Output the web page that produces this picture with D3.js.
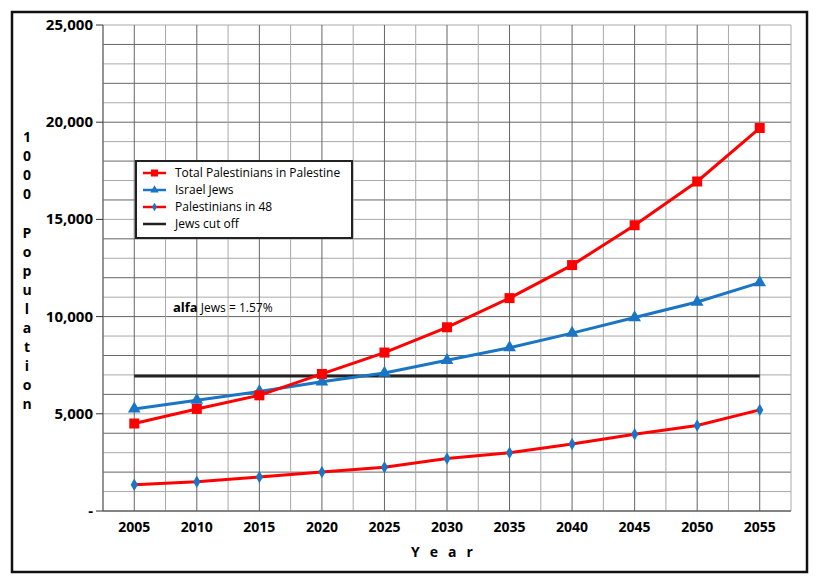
<!DOCTYPE html><html><head><script src="https://cdn.jsdelivr.net/npm/d3@7"></script>
<style>body{margin:0;background:#fff}text{font-family:"Open Sans",Arial,sans-serif}</style></head><body>
<svg id="c" width="822" height="584"></svg>
<script>
const years=[2005,2010,2015,2020,2025,2030,2035,2040,2045,2050,2055];
const totalPal=[4500,5250,5950,7050,8150,9450,10950,12650,14700,16950,19700];
const israelJews=[5250,5700,6150,6650,7100,7750,8400,9150,9950,10750,11750];
const pal48=[1350,1500,1750,2000,2250,2700,3000,3450,3950,4400,5200];
const cutoff=6950;
const yTicks=[0,5000,10000,15000,20000,25000];
const svg=d3.select("#c");
svg.append("rect").attr("x",12).attr("y",12).attr("width",795).attr("height",560).attr("fill","none").attr("stroke","#111").attr("stroke-width",2.5);
const x=d3.scaleLinear().domain([2002.5,2057.5]).range([103,791]);
const y=d3.scaleLinear().domain([0,25000]).range([511,25]);
const g=svg.append("g");
d3.range(0,25001,1000).forEach((v,i)=>g.append("line").attr("x1",103).attr("x2",791).attr("y1",y(v)).attr("y2",y(v)).attr("stroke",i%2?"#aaa":"#666").attr("stroke-width",1));
d3.range(2002.5,2058,2.5).forEach((v,i)=>g.append("line").attr("y1",25).attr("y2",511).attr("x1",x(v)).attr("x2",x(v)).attr("stroke",i%2?"#666":"#aaa").attr("stroke-width",1));
g.append("line").attr("x1",103).attr("x2",103).attr("y1",25).attr("y2",511).attr("stroke","#555");
g.append("line").attr("x1",103).attr("x2",791).attr("y1",511).attr("y2",511).attr("stroke","#555");
yTicks.forEach(v=>{g.append("line").attr("x1",96).attr("x2",103).attr("y1",y(v)).attr("y2",y(v)).attr("stroke","#333");
 g.append("text").attr("x",93).attr("y",y(v)+5).attr("text-anchor","end").attr("font-size",15).attr("font-weight","bold").text(v===0?"-":d3.format(",")(v));});
years.forEach(v=>g.append("text").attr("x",x(v)).attr("y",532).attr("text-anchor","middle").attr("font-size",14).attr("font-weight","bold").text(v));
g.append("text").attr("x",447).attr("y",557).attr("text-anchor","middle").attr("font-size",14).attr("font-weight","bold").attr("letter-spacing","10px").text("Year");
const lab=["1","0","0","0","","P","o","p","u","l","a","t","i","o","n"];
lab.forEach((c,i)=>g.append("text").attr("x",27).attr("y",142+i*19.1).attr("text-anchor","middle").attr("font-size",14).attr("font-weight","bold").text(c));
const line=d3.line().x((d,i)=>x(years[i])).y(d=>y(d));
svg.append("line").attr("x1",x(2005)).attr("x2",x(2055)).attr("y1",y(cutoff)).attr("y2",y(cutoff)).attr("stroke","#222").attr("stroke-width",3);
svg.append("path").attr("d",line(pal48)).attr("fill","none").attr("stroke","#f00").attr("stroke-width",3);
pal48.forEach((d,i)=>svg.append("path").attr("d",d3.symbol(d3.symbolDiamond,45)()).attr("transform",`translate(${x(years[i])},${y(d)})`).attr("fill","#1a75c4"));
svg.append("path").attr("d",line(israelJews)).attr("fill","none").attr("stroke","#1a75c4").attr("stroke-width",3);
israelJews.forEach((d,i)=>svg.append("path").attr("d",d3.symbol(d3.symbolTriangle,70)()).attr("transform",`translate(${x(years[i])},${y(d)})`).attr("fill","#1a75c4"));
svg.append("path").attr("d",line(totalPal)).attr("fill","none").attr("stroke","#f00").attr("stroke-width",3);
totalPal.forEach((d,i)=>svg.append("rect").attr("x",x(years[i])-5).attr("y",y(d)-5).attr("width",10).attr("height",10).attr("fill","#f00"));
const L=svg.append("g");
L.append("rect").attr("x",136).attr("y",161).attr("width",216).attr("height",77).attr("fill","#fff").attr("stroke","#222").attr("stroke-width",2);
const items=[["Total Palestinians in Palestine","#f00","sq"],["Israel Jews","#1a75c4","tri"],["Palestinians in 48","#f00","dia"],["Jews cut off","#222",""]];
items.forEach((it,i)=>{const yy=173+i*17;
 L.append("line").attr("x1",143).attr("x2",166).attr("y1",yy).attr("y2",yy).attr("stroke",it[1]).attr("stroke-width",2.5);
 if(it[2]==="sq")L.append("rect").attr("x",151).attr("y",yy-3.5).attr("width",7).attr("height",7).attr("fill","#f00");
 if(it[2]==="tri")L.append("path").attr("d",d3.symbol(d3.symbolTriangle,30)()).attr("transform",`translate(154.5,${yy})`).attr("fill","#1a75c4");
 if(it[2]==="dia")L.append("path").attr("d",d3.symbol(d3.symbolDiamond,22)()).attr("transform",`translate(154.5,${yy})`).attr("fill","#1a75c4");
 L.append("text").attr("x",175).attr("y",yy+4).attr("font-size",12).text(it[0]);});
const t=svg.append("text").attr("x",173).attr("y",312).attr("font-size",12);
t.append("tspan").attr("font-weight","bold").attr("font-size",13).text("alfa");
t.append("tspan").text(" Jews = 1.57%");
</script></body></html>
